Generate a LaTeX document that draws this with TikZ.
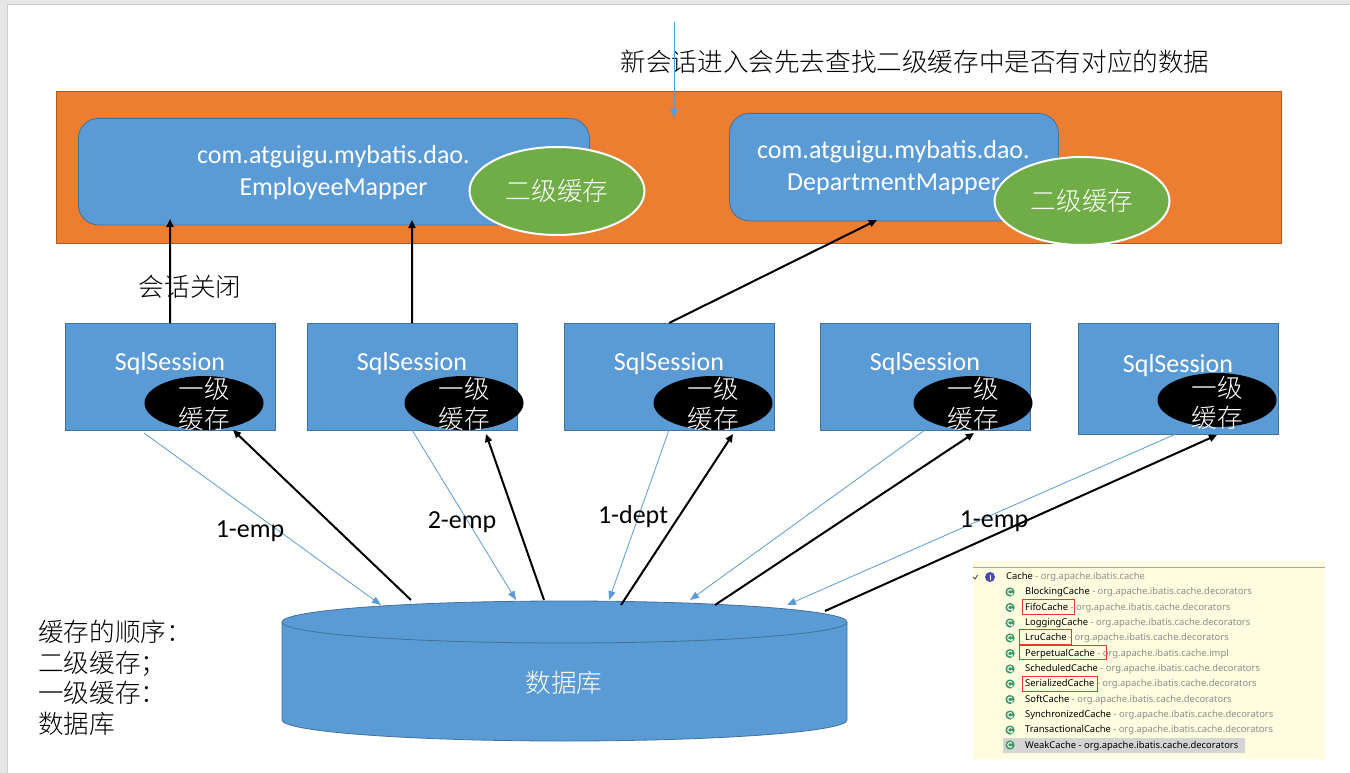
\documentclass[tikz,border=0pt]{standalone}
\usepackage{fontspec}
\setmainfont{Carlito}
\newfontfamily\cjk{Noto Sans CJK SC Light}
\newfontfamily\ui{Noto Sans}
\usetikzlibrary{arrows.meta,shapes.geometric}
\definecolor{blueF}{HTML}{5B9BD5}
\definecolor{blueB}{HTML}{41719C}
\definecolor{orangeF}{HTML}{ED7D31}
\definecolor{orangeB}{HTML}{AE5A21}
\definecolor{greenF}{HTML}{70AD47}
\definecolor{frameG}{HTML}{E6E6E6}
\definecolor{iconG}{HTML}{3C9A5F}
\definecolor{pkgG}{HTML}{8C8C8C}
\definecolor{redB}{HTML}{F0362B}
\tikzset{
  box/.style={draw=blueB,fill=blueF,line width=.8pt,inner sep=0pt,anchor=north west,text=white,font=\fontsize{26}{32}\selectfont},
  session/.style={box,text depth=0pt},
  mapper/.style={box,rounded corners=20pt,align=center},
  l2/.style={ellipse,draw=white,fill=greenF,line width=2pt,minimum width=175pt,minimum height=88pt,inner sep=0pt,text=white,font=\cjk\fontsize{25.6}{30}\selectfont},
  l1/.style={ellipse,fill=black,minimum width=119pt,minimum height=54pt,inner sep=0pt,text=white},
  l1txt/.style={text=white,align=center,inner sep=0pt,font=\cjk\fontsize{25.6}{30}\selectfont},
  lab/.style={inner sep=0pt,font=\fontsize{26}{30}\selectfont,text=black},
  cjklab/.style={inner sep=0pt,font=\cjk\fontsize{25.6}{30}\selectfont,text=black},
  thick arrow/.style={draw=black,line width=2pt,-{Triangle[length=8pt,width=7pt]}},
  thin arrow/.style={draw=blueF,line width=.8pt,-{Triangle[length=9pt,width=7pt]}},
  row/.style={anchor=west,inner sep=0pt,font=\ui\fontsize{9.4}{10}\selectfont,text=black},
  redbox/.style={draw=redB,line width=1pt},
}
\newcommand{\cacherow}[4]{%
  \fill[iconG] (1010,#2) circle (4.6pt);
  \draw[white,line width=1pt] (1012,#2-1.6) arc (40:320:2.4pt) -- ++(0,-2.2pt);
  \node[row] (#1) at (1025,#2+.5) {#3\ \textcolor{pkgG}{- #4}};
}
\begin{document}
\begin{tikzpicture}[x=1pt,y=-1pt]
\useasboundingbox (0,0) rectangle (1350,773);
\fill[frameG] (0,0) rectangle (1350,773);
\fill[white] (7,4.5) rectangle (1350,773);
\draw[black!20,line width=.8pt] (7,773) -- (7,4.5) -- (1350,4.5);

% container
\path[draw=orangeB,fill=orangeF,line width=.8pt] (56,91) rectangle (1281.5,243);
\node[cjklab,anchor=center] (title) at (915,62) {新会话进入会先去查找二级缓存中是否有对应的数据};

% mappers
\node[mapper,minimum width=511pt,minimum height=106.5pt] (m1) at (78,118) {};
\node[white,font=\fontsize{26}{32}\selectfont,align=center,inner sep=0pt] (m1t) at (333.5,173) {com.atguigu.mybatis.dao.\\EmployeeMapper};
\node[mapper,minimum width=329pt,minimum height=107.5pt] (m2) at (729,113) {};
\node[white,font=\fontsize{26}{32}\selectfont,align=center,inner sep=0pt] (m2t) at (893.5,168) {com.atguigu.mybatis.dao.\\DepartmentMapper};
\node[l2] (g1) at (557,191) {二级缓存};
\node[l2] (g2) at (1082,201) {二级缓存};

% sessions
\node[session,minimum width=209.5pt,minimum height=106.5pt] (s1) at (65,323) {};
\node[session,minimum width=209.5pt,minimum height=106.5pt] (s2) at (307,323) {};
\node[session,minimum width=209.5pt,minimum height=106.5pt] (s3) at (564,323) {};
\node[session,minimum width=209.5pt,minimum height=106.5pt] (s4) at (820,323) {};
\node[session,minimum width=199.5pt,minimum height=110.5pt] (s5) at (1078,323) {};
\node[lab,text=white] (s1t) at (170,363.5) {SqlSession};
\node[lab,text=white] (s2t) at (412,363.5) {SqlSession};
\node[lab,text=white] (s3t) at (669,363.5) {SqlSession};
\node[lab,text=white] (s4t) at (925,363.5) {SqlSession};
\node[lab,text=white] (s5t) at (1178,365.5) {SqlSession};
\node[l1] (e1) at (204,403) {};
\node[l1] (e2) at (464,403) {};
\node[l1] (e3) at (713,403) {};
\node[l1] (e4) at (973,403) {};
\node[l1] (e5) at (1217,400) {};
\node[l1txt] (e1t) at (204,404) {一级\\缓存};
\node[l1txt] (e2t) at (464,404) {一级\\缓存};
\node[l1txt] (e3t) at (713,404) {一级\\缓存};
\node[l1txt] (e4t) at (973,404) {一级\\缓存};
\node[l1txt] (e5t) at (1217,403) {一级\\缓存};

% database
\path[draw=blueB,fill=blueF,line width=.8pt] (282,622) -- (282,720) arc[start angle=180,end angle=360,x radius=282.5pt,y radius=21pt] -- (847,622);
\path[draw=blueB,fill=blueF,line width=.8pt] (564.5,622) ellipse [x radius=282.5pt,y radius=21pt];
\node[lab,font=\cjk\fontsize{25.6}{30}\selectfont,text=white] (db) at (564,683) {数据库};

% named connector ends
\coordinate (top) at (674,22);
\coordinate (topE) at (674,118);
\coordinate (m1a) at (170,219);
\coordinate (m1b) at (412,220);
\coordinate (m2a) at (877,220);
\coordinate (b1s) at (144,433); \coordinate (b1e) at (381,605);
\coordinate (b2s) at (412,430); \coordinate (b2e) at (516,600);
\coordinate (b3s) at (669,430); \coordinate (b3e) at (609,600);
\coordinate (b4s) at (925,430); \coordinate (b4e) at (690,600);
\coordinate (b5s) at (1178,433); \coordinate (b5e) at (787,605);
\coordinate (k1s) at (411,600); \coordinate (k1e) at (233,430);
\coordinate (k2s) at (544,600); \coordinate (k2e) at (486,434);
\coordinate (k3s) at (621,605); \coordinate (k3e) at (733,434);
\coordinate (k4s) at (715,605); \coordinate (k4e) at (974,433);
\coordinate (k5s) at (825,611); \coordinate (k5e) at (1217,435);

% connectors
\draw[thin arrow] (top) -- (topE);
\draw[thick arrow] (s1.north) -- (m1a);
\draw[thick arrow] (s2.north) -- (m1b);
\draw[thick arrow] (s3.north) -- (m2a);
\draw[thin arrow] (b1s) -- (b1e);
\draw[thin arrow] (b2s) -- (b2e);
\draw[thin arrow] (b3s) -- (b3e);
\draw[thin arrow] (b4s) -- (b4e);
\draw[thin arrow] (b5s) -- (b5e);
\draw[thick arrow] (k1s) -- (k1e);
\draw[thick arrow] (k2s) -- (k2e);
\draw[thick arrow] (k3s) -- (k3e);
\draw[thick arrow] (k4s) -- (k4e);
\draw[thick arrow] (k5s) -- (k5e);

% labels
\node[cjklab] (close) at (190,287) {会话关闭};
\node[lab] (l1) at (250,531) {1-emp};
\node[lab] (l2) at (462,522) {2-emp};
\node[lab] (l3) at (633,517) {1-dept};
\node[lab] (l4) at (994,521) {1-emp};
\node[cjklab,anchor=north west,align=left,font=\cjk\fontsize{25.6}{30.6}\selectfont] (order) at (38,620) {缓存的顺序：\\二级缓存；\\一级缓存：\\数据库};

% inset screenshot
\fill[yellow!12] (973,561) rectangle (1325,758.5);
\draw[black!35,line width=.7pt] (973,567.3) -- (1325,567.3);
\fill[black!17] (1003,738.3) rectangle (1245,753.3);
\fill[blue!55!black!70] (990,577) circle (5pt);
\draw[white,line width=1pt] (990,574.5) -- (990,579.5);
\draw[black!70,line width=.9pt] (973,577) -- (975,579) -- (977.5,575);
\node[row] (c0) at (1006,577.5) {Cache\ \textcolor{pkgG}{- org.apache.ibatis.cache}};
\cacherow{c1}{592}{BlockingCache}{org.apache.ibatis.cache.decorators}
\cacherow{c2}{607.5}{FifoCache}{org.apache.ibatis.cache.decorators}
\cacherow{c3}{623}{LoggingCache}{org.apache.ibatis.cache.decorators}
\cacherow{c4}{638}{LruCache}{org.apache.ibatis.cache.decorators}
\cacherow{c5}{653.5}{PerpetualCache}{org.apache.ibatis.cache.impl}
\cacherow{c6}{669}{ScheduledCache}{org.apache.ibatis.cache.decorators}
\cacherow{c7}{684}{SerializedCache}{org.apache.ibatis.cache.decorators}
\cacherow{c8}{699.5}{SoftCache}{org.apache.ibatis.cache.decorators}
\cacherow{c9}{715}{SynchronizedCache}{org.apache.ibatis.cache.decorators}
\cacherow{c10}{730}{TransactionalCache}{org.apache.ibatis.cache.decorators}
\fill[iconG] (1010,745) circle (4.6pt);
\draw[white,line width=1pt] (1012,743.4) arc (40:320:2.4pt);
\node[row] (c11) at (1025,746) {WeakCache - org.apache.ibatis.cache.decorators};
\draw[redbox] (1022.3,599) rectangle (1074,614.3);
\draw[redbox] (1019.3,629.7) rectangle (1071,644.3);
\draw[redbox] (1019,645) rectangle (1106.3,659.3);
\draw[redbox] (1022.3,676.7) rectangle (1097,691);
\end{tikzpicture}
\end{document}
